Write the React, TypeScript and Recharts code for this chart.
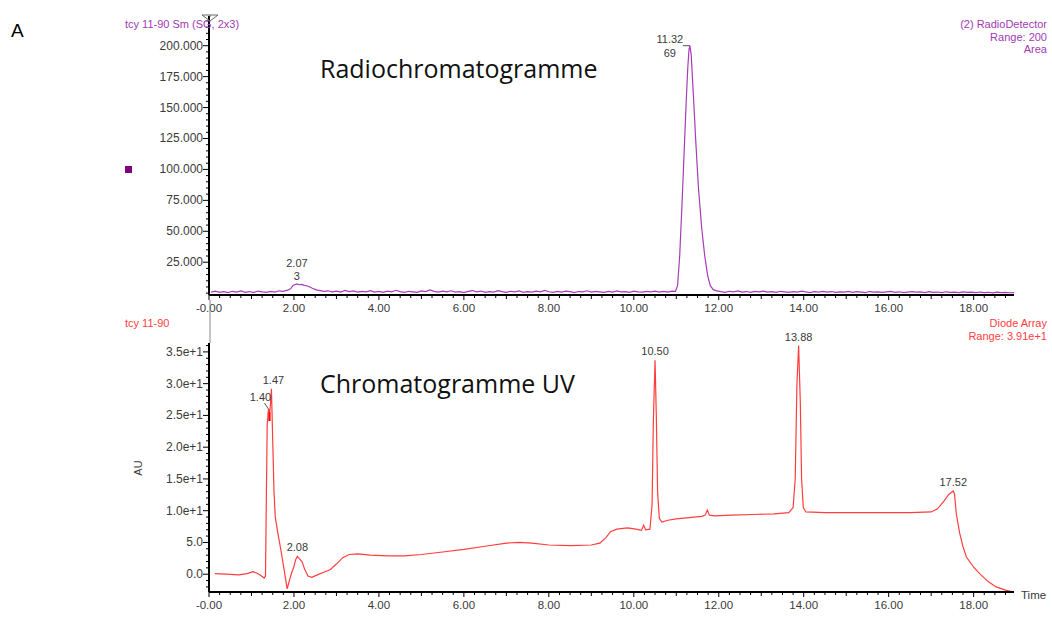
import React from "react";
import { LineChart, Line, XAxis, YAxis, ReferenceDot } from "recharts";

// ---------- Radio detector trace (time in min, counts) ----------
const radioTimes = [
  0.05, 0.15, 0.25, 0.35, 0.45, 0.55, 0.65, 0.75, 0.85, 0.95, 1.05, 1.15, 1.25, 1.35, 1.45, 1.55, 1.65, 1.75,
  1.85, 1.92, 1.98, 2.03, 2.07, 2.12, 2.18, 2.24, 2.3, 2.36, 2.42, 2.48, 2.55, 2.62, 2.7, 2.8, 2.9, 3.0, 3.1,
  3.2, 3.3, 3.4, 3.5, 3.6, 3.7, 3.8, 3.9, 4.0, 4.1, 4.2, 4.3, 4.4, 4.5, 4.6, 4.7, 4.8, 4.9, 5.0, 5.1, 5.2, 5.3,
  5.4, 5.5, 5.6, 5.7, 5.8, 5.9, 6.0, 6.1, 6.2, 6.3, 6.4, 6.5, 6.6, 6.7, 6.8, 6.9, 7.0, 7.1, 7.2, 7.3, 7.4, 7.5,
  7.6, 7.7, 7.8, 7.9, 8.0, 8.1, 8.2, 8.3, 8.4, 8.5, 8.6, 8.7, 8.8, 8.9, 9.0, 9.1, 9.2, 9.3, 9.4, 9.5, 9.6, 9.7,
  9.8, 9.9, 10.0, 10.1, 10.2, 10.3, 10.4, 10.5, 10.6, 10.7, 10.8, 10.9, 10.98, 11.03, 11.08, 11.13, 11.18, 11.23,
  11.27, 11.3, 11.32, 11.35, 11.4, 11.46, 11.52, 11.6, 11.67, 11.74, 11.8, 11.87, 11.95, 12.05, 12.15,
  12.25, 12.35, 12.45, 12.55, 12.65, 12.75, 12.85, 12.95, 13.05, 13.15, 13.25, 13.35, 13.45, 13.55, 13.65,
  13.75, 13.85, 13.95, 14.05, 14.15, 14.25, 14.35, 14.45, 14.55, 14.65, 14.75, 14.85, 14.95, 15.05, 15.15,
  15.25, 15.35, 15.45, 15.55, 15.65, 15.75, 15.85, 15.95, 16.05, 16.15, 16.25, 16.35, 16.45, 16.55, 16.65,
  16.75, 16.85, 16.95, 17.05, 17.15, 17.25, 17.35, 17.45, 17.55, 17.65, 17.75, 17.85, 17.95, 18.05, 18.15,
  18.25, 18.35, 18.45, 18.55, 18.65, 18.75, 18.85, 18.95,
];
const radioValues = [
  0.8, 1.6, 0.6, 1.2, 0.4, 1.5, 0.9, 1.8, 0.7, 1.3, 0.5, 1.7, 1.0, 0.6, 1.4, 0.8, 1.9, 1.5,
  2.4, 3.5, 6.2, 7.0, 7.4, 6.8, 7.1, 6.3, 6.0, 5.2, 4.1, 3.3, 2.5, 2.0, 1.4, 1.9, 1.0, 1.7, 0.9,
  2.2, 1.3, 1.8, 0.8, 1.5, 1.1, 2.0, 0.9, 1.4, 0.6, 1.6, 1.0, 2.3, 1.2, 0.7, 1.5, 1.1, 0.6, 1.8, 1.3, 2.6, 1.4,
  0.9, 1.6, 1.0, 1.9, 0.8, 1.2, 0.5, 1.4, 2.1, 1.0, 1.7, 0.7, 1.3, 0.9, 2.0, 1.2, 0.6, 1.5, 1.1, 1.8, 0.7, 1.3,
  0.9, 1.6, 1.0, 2.2, 1.1, 0.6, 1.4, 0.9, 1.7, 1.2, 0.5, 1.3, 1.0, 1.9, 0.8, 1.5, 1.1, 0.6, 1.4, 0.9, 1.8, 1.0,
  1.3, 0.7, 1.6, 1.1, 0.8, 1.5, 1.0, 1.7, 0.9, 1.4, 0.8, 1.6, 1.5, 6, 30, 68, 110, 152,
  182, 197, 200, 193, 162, 122, 86, 52, 30, 14, 6, 2.8, 1.8, 1.2, 0.7,
  1.5, 1.0, 1.8, 0.8, 1.3, 0.6, 1.4, 1.0, 1.7, 0.9, 1.2, 0.6, 1.5, 1.1, 0.7,
  1.3, 0.9, 1.6, 1.0, 0.5, 1.2, 0.8, 1.5, 0.9, 1.3, 0.6, 1.1, 0.8, 1.4, 0.7,
  1.2, 0.9, 0.5, 1.3, 0.8, 1.1, 0.6, 1.0, 1.4, 0.7, 1.1, 0.5, 0.9, 1.3, 0.8,
  1.0, 0.5, 1.2, 0.7, 0.9, 0.4, 1.1, 0.6, 0.9, 0.5, 1.0, 0.6, 0.8, 0.4, 0.9,
  0.5, 0.7, 0.3, 0.8, 0.5, 0.6, 0.3, 0.5,
];

// ---------- UV (diode array) trace (time in min, AU) ----------
const uvTimes = [
  0.14, 0.4, 0.7, 0.9, 1.03, 1.12, 1.22, 1.3, 1.33, 1.35, 1.37, 1.4, 1.43, 1.45, 1.47, 1.5, 1.53, 1.56, 1.62,
  1.7, 1.78, 1.84, 1.9, 1.95, 2.0, 2.04, 2.08, 2.13, 2.19, 2.25, 2.33, 2.42, 2.55, 2.7, 2.85, 3.0, 3.15, 3.3,
  3.5, 3.8, 4.2, 4.6, 5.0, 5.5, 6.0, 6.5, 7.0, 7.3, 7.6, 8.0, 8.5, 9.0, 9.2, 9.35, 9.45, 9.6, 9.85, 10.05,
  10.18, 10.23, 10.28, 10.38, 10.43, 10.46, 10.5, 10.53, 10.56, 10.6, 10.66, 10.8, 11.0, 11.3, 11.6, 11.68,
  11.73, 11.78, 11.9, 12.3, 12.8, 13.3, 13.65, 13.75, 13.8, 13.84, 13.88, 13.92, 13.95, 13.99, 14.05, 14.5,
  15.5, 16.5, 17.0, 17.15, 17.3, 17.42, 17.52, 17.55, 17.59, 17.67, 17.75, 17.83, 18.0, 18.14, 18.35, 18.53,
  18.75, 18.95,
];
const uvValues = [
  0.1, 0.0, -0.1, 0.1, 0.4, 0.2, -0.2, -0.6, -0.3, 12, 23.5, 26.0, 25.5, 27, 29.2, 21, 13, 9, 6.5,
  3.5, 0.2, -2.3, -0.8, 0.3, 1.2, 2.3, 2.8, 2.4, 2.0, 0.8, -0.3, -0.5, -0.1, 0.3, 0.7, 1.6, 2.6, 3.1,
  3.2, 3.0, 2.9, 2.9, 3.1, 3.5, 3.9, 4.4, 4.9, 5.0, 4.9, 4.6, 4.5, 4.6, 4.9, 5.8, 6.7, 7.1, 7.3, 7.1,
  6.9, 7.7, 7.0, 7.1, 11, 24, 33.7, 25, 13, 8.8, 8.2, 8.5, 8.7, 8.9, 9.1, 9.3,
  10.1, 9.3, 9.2, 9.3, 9.4, 9.5, 9.7, 10.5, 15, 30, 36.0, 27, 15, 10.5, 9.8, 9.7,
  9.7, 9.7, 9.8, 10.3, 11.5, 12.6, 13.1, 12.6, 9.6, 6.5, 4.3, 2.7, 1.1, 0.1, -1.2, -2.0,
  -2.5, -2.8,
];

// ---------- axes ----------
const xMajorTicks = [0, 2, 4, 6, 8, 10, 12, 14, 16, 18];
const xMajorLabels = ["-0.00", "2.00", "4.00", "6.00", "8.00", "10.00", "12.00", "14.00", "16.00", "18.00"];
const radioYTicks = [25, 50, 75, 100, 125, 150, 175, 200];
const radioYLabels = ["25.000", "50.000", "75.000", "100.000", "125.000", "150.000", "175.000", "200.000"];
const uvYTicks = [0, 5, 10, 15, 20, 25, 30, 35];
const uvYLabels = ["0.0", "5.0", "1.0e+1", "1.5e+1", "2.0e+1", "2.5e+1", "3.0e+1", "3.5e+1"];

// ---------- peak annotations ----------
const radioPeakTimes = [2.07, 11.32];
const radioPeakLabels = [["2.07", "3"], ["11.32", "69"]];
const uvPeakTimes = [1.4, 1.47, 2.08, 10.5, 13.88, 17.52];
const uvPeakLabels = ["1.40", "1.47", "2.08", "10.50", "13.88", "17.52"];

const X_DOMAIN: [number, number] = [0, 18.95];
const RADIO_DOMAIN: [number, number] = [-1.5, 224];
const UV_DOMAIN: [number, number] = [-2.8, 36.4];

const FONT = "'Liberation Sans', Arial, sans-serif";
const TITLE_FONT = "'Open Sans', sans-serif";
const TICK_FILL = "#3a3a3a";
const PURPLE = "#a63cb6";
const PURPLE_TEXT = "#a23ab2";
const RED = "#ff3d3d";

const radioData = radioTimes.map((t, i) => ({ t, v: radioValues[i] }));
const uvData = uvTimes.map((t, i) => ({ t, v: uvValues[i] }));

const minorList = (lo: number, hi: number, step: number) => {
  const out: number[] = [];
  for (let k = Math.ceil(lo / step); k * step <= hi + 1e-9; k++) out.push(Math.round(k * step * 1000) / 1000);
  return out;
};
const xTicks = minorList(0, 18.95, 0.25);
const radioMinor = minorList(0, 222, 5);
const uvMinor = minorList(-2, 36, 1);

const idxOf = (arr: number[], v: number) => arr.findIndex((m) => Math.abs(m - v) < 1e-6);

const XTick = (p: any) => {
  const v = p.payload.value;
  const i = idxOf(xMajorTicks, v);
  const isInt = Math.abs(v - Math.round(v)) < 1e-6;
  const len = i >= 0 ? 5 : isInt ? 4 : 3;
  return (
    <g>
      <line x1={p.x} y1={p.y} x2={p.x} y2={p.y + len} stroke="#000" strokeWidth={1} />
      {i >= 0 && (
        <text x={p.x} y={p.y + 17} textAnchor="middle" fontFamily={FONT} fontSize={11.5} fill={TICK_FILL}>
          {xMajorLabels[i]}
        </text>
      )}
    </g>
  );
};

const makeYTick = (majors: number[], labels: string[]) => (p: any) => {
  const v = p.payload.value;
  const i = idxOf(majors, v);
  const len = i >= 0 ? 6 : 3;
  return (
    <g>
      <line x1={p.x} y1={p.y} x2={p.x - len} y2={p.y} stroke="#000" strokeWidth={1} />
      {i >= 0 && (
        <text x={p.x - 6} y={p.y + 4} textAnchor="end" fontFamily={FONT} fontSize={12} fill={TICK_FILL}>
          {labels[i]}
        </text>
      )}
    </g>
  );
};
const RadioYTick = makeYTick(radioYTicks, radioYLabels);
const UvYTick = makeYTick(uvYTicks, uvYLabels);

const center = (props: any) => {
  const vb = props.viewBox || {};
  return { cx: vb.x + (vb.width || 0) / 2, cy: vb.y + (vb.height || 0) / 2 };
};

const radioLabel = (lines: string[], left: boolean) => (props: any) => {
  const { cx, cy } = center(props);
  if (left) {
    return (
      <g>
        <text x={cx - 20} y={cy - 3} textAnchor="middle" fontFamily={FONT} fontSize={11} fill={TICK_FILL}>{lines[0]}</text>
        <text x={cx - 20} y={cy + 11} textAnchor="middle" fontFamily={FONT} fontSize={11} fill={TICK_FILL}>{lines[1]}</text>
        <line x1={cx - 7} y1={cy} x2={cx} y2={cy} stroke="#555" strokeWidth={1} />
      </g>
    );
  }
  return (
    <g>
      <text x={cx} y={cy - 17} textAnchor="middle" fontFamily={FONT} fontSize={11} fill={TICK_FILL}>{lines[0]}</text>
      <text x={cx} y={cy - 4} textAnchor="middle" fontFamily={FONT} fontSize={11} fill={TICK_FILL}>{lines[1]}</text>
    </g>
  );
};

const uvLabel = (text: string) => (props: any) => {
  const { cx, cy } = center(props);
  if (text === "1.40") {
    return (
      <g>
        <text x={cx - 8} y={cy - 8} textAnchor="middle" fontFamily={FONT} fontSize={11} fill={TICK_FILL}>{text}</text>
        <line x1={cx - 4} y1={cy - 6} x2={cx} y2={cy} stroke="#555" strokeWidth={1} />
        <line x1={cx + 1} y1={cy + 3} x2={cx + 1} y2={cy + 12} stroke="#ff0000" strokeWidth={2.2} />
      </g>
    );
  }
  const dx = text === "1.47" ? 2 : 0;
  return (
    <text x={cx + dx} y={cy - 5} textAnchor="middle" fontFamily={FONT} fontSize={11} fill={TICK_FILL}>{text}</text>
  );
};

const valueAt = (times: number[], values: number[], t: number) => values[idxOf(times, t)];

export default function App() {
  return (
    <div style={{ position: "absolute", left: 0, top: 0, width: 1052, height: 617, background: "#fff", overflow: "hidden" }}>
      <div style={{ position: "absolute", left: 0, top: 0 }}>
        <LineChart width={1052} height={320} data={radioData} margin={{ top: 16, right: 38, bottom: 0, left: 149 }}>
          <XAxis
            dataKey="t"
            type="number"
            domain={X_DOMAIN}
            ticks={xTicks}
            interval={0}
            tickSize={0}
            tickMargin={0}
            tickLine={false}
            tick={XTick}
            height={25}
            allowDataOverflow
            axisLine={{ stroke: "#000", strokeWidth: 2 }}
          />
          <YAxis
            type="number"
            domain={RADIO_DOMAIN}
            ticks={radioMinor}
            interval={0}
            tickSize={0}
            tickMargin={0}
            tickLine={false}
            tick={RadioYTick}
            width={60}
            allowDataOverflow
            axisLine={{ stroke: "#000", strokeWidth: 2 }}
          />
          <Line dataKey="v" type="linear" stroke={PURPLE} strokeWidth={1.2} dot={false} isAnimationActive={false} />
          {radioPeakTimes.map((t, i) => (
            <ReferenceDot
              key={"rp" + i}
              x={t}
              y={valueAt(radioTimes, radioValues, t)}
              r={1}
              fill="none"
              stroke="none"
              ifOverflow="visible"
              label={radioLabel(radioPeakLabels[i], t > 5)}
            />
          ))}
        </LineChart>
      </div>
      <div style={{ position: "absolute", left: 0, top: 320 }}>
        <LineChart width={1052} height={297} data={uvData} margin={{ top: 23, right: 38, bottom: 0, left: 149 }}>
          <XAxis
            dataKey="t"
            type="number"
            domain={X_DOMAIN}
            ticks={xTicks}
            interval={0}
            tickSize={0}
            tickMargin={0}
            tickLine={false}
            tick={XTick}
            height={25}
            allowDataOverflow
            axisLine={{ stroke: "#000", strokeWidth: 2 }}
          />
          <YAxis
            type="number"
            domain={UV_DOMAIN}
            ticks={uvMinor}
            interval={0}
            tickSize={0}
            tickMargin={0}
            tickLine={false}
            tick={UvYTick}
            width={60}
            allowDataOverflow
            axisLine={{ stroke: "#000", strokeWidth: 2 }}
          />
          <Line dataKey="v" type="linear" stroke={RED} strokeWidth={1.2} dot={false} isAnimationActive={false} />
          {uvPeakTimes.map((t, i) => (
            <ReferenceDot
              key={"up" + i}
              x={t}
              y={valueAt(uvTimes, uvValues, t)}
              r={1}
              fill="none"
              stroke="none"
              ifOverflow="visible"
              label={uvLabel(uvPeakLabels[i])}
            />
          ))}
        </LineChart>
      </div>
      <svg width={1052} height={617} style={{ position: "absolute", left: 0, top: 0, pointerEvents: "none" }}>
        <text x={11} y={37} fontFamily={FONT} fontSize={19} fill="#000">A</text>
        <text x={125} y={28} fontFamily={FONT} fontSize={11} fill={PURPLE_TEXT}>tcy 11-90 Sm (SG, 2x3)</text>
        <polygon points="202,15 218,15 210,21" fill="none" stroke="#666" strokeWidth={1} />
        <line x1={210} y1={15} x2={210} y2={17} stroke="#666" strokeWidth={1} />
        <text x={1047} y={28} textAnchor="end" fontFamily={FONT} fontSize={11} fill={PURPLE_TEXT}>(2) RadioDetector</text>
        <text x={1047} y={40.5} textAnchor="end" fontFamily={FONT} fontSize={11} fill={PURPLE_TEXT}>Range: 200</text>
        <text x={1047} y={53} textAnchor="end" fontFamily={FONT} fontSize={11} fill={PURPLE_TEXT}>Area</text>
        <rect x={125} y={166} width={7} height={7} fill="#800080" />
        <text x={320} y={78} fontFamily={TITLE_FONT} fontSize={25} fill="#111">Radiochromatogramme</text>
        <line x1={210} y1={300} x2={210} y2={343} stroke="#888" strokeWidth={1} />
        <text x={125} y={327} fontFamily={FONT} fontSize={11} fill={RED}>tcy 11-90</text>
        <text x={1047} y={327} textAnchor="end" fontFamily={FONT} fontSize={11} fill={RED}>Diode Array</text>
        <text x={1047} y={339.5} textAnchor="end" fontFamily={FONT} fontSize={11} fill={RED}>Range: 3.91e+1</text>
        <text x={320} y={393} fontFamily={TITLE_FONT} fontSize={25} fill="#111">Chromatogramme UV</text>
        <text x={0} y={0} transform="translate(142,468) rotate(-90)" textAnchor="middle" fontFamily={FONT} fontSize={11} fill={TICK_FILL}>AU</text>
        <text x={1021} y={599} fontFamily={FONT} fontSize={11.5} fill={TICK_FILL}>Time</text>
      </svg>
    </div>
  );
}
